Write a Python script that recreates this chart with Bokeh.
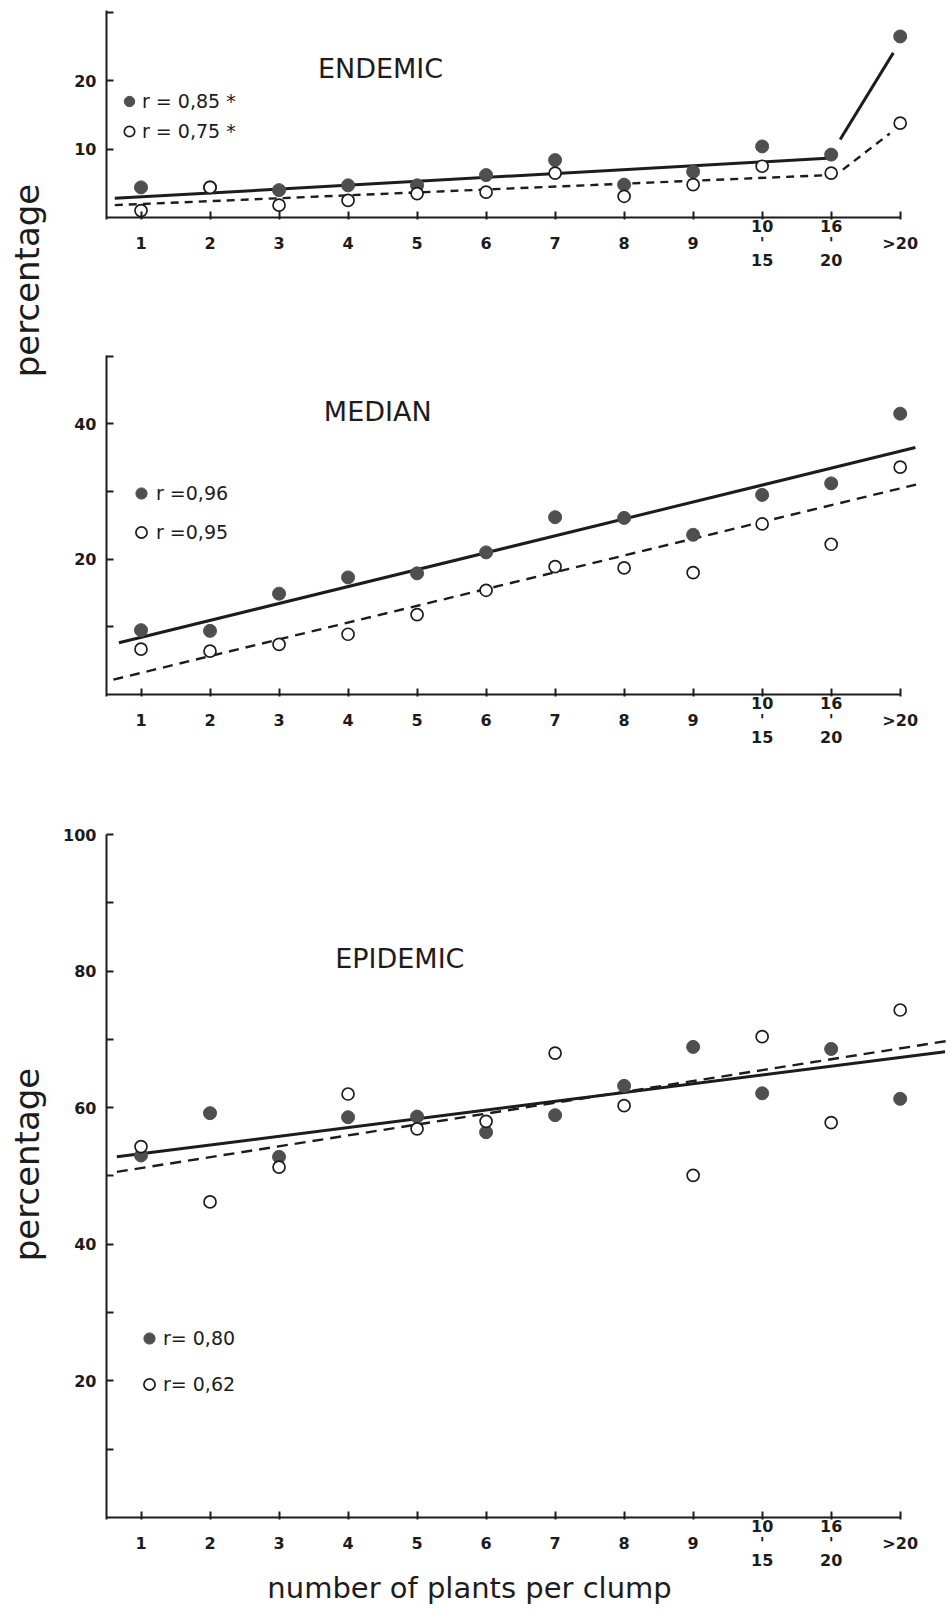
import math
from bokeh.plotting import figure
from bokeh.models import Range1d, FixedTicker, Label, Legend, LegendItem
from bokeh.layouts import row, column
from bokeh.embed import file_html
from bokeh.resources import INLINE

# ---------------- data ----------------
categories = ["1", "2", "3", "4", "5", "6", "7", "8", "9", "10-15", "16-20", ">20"]
tick_labels = ["\n1", "\n2", "\n3", "\n4", "\n5", "\n6", "\n7", "\n8", "\n9",
               "10\n'\n15", "16\n'\n20", "\n>20"]
xpos = list(range(1, len(categories) + 1))

endemic_filled = [4.4, 4.4, 4.0, 4.7, 4.7, 6.2, 8.4, 4.8, 6.7, 10.4, 9.2, 26.5]
endemic_open = [1.0, 4.4, 1.8, 2.5, 3.5, 3.7, 6.5, 3.1, 4.8, 7.5, 6.5, 13.8]
endemic_fit_filled_x = [0.62, 11.0]
endemic_fit_filled_y = [2.8, 8.7]
endemic_jump_filled_x = [11.13, 11.9]
endemic_jump_filled_y = [11.4, 24.1]
endemic_fit_open_x = [0.62, 10.95]
endemic_fit_open_y = [1.8, 6.2]
endemic_jump_open_x = [11.17, 11.85]
endemic_jump_open_y = [7.0, 12.3]

median_filled = [9.5, 9.4, 14.9, 17.3, 17.9, 21.0, 26.2, 26.1, 23.6, 29.5, 31.2, 41.5]
median_open = [6.7, 6.4, 7.4, 8.9, 11.8, 15.4, 18.9, 18.7, 18.0, 25.2, 22.2, 33.6]
median_fit_filled_x = [0.68, 12.22]
median_fit_filled_y = [7.65, 36.5]
median_fit_open_x = [0.6, 12.3]
median_fit_open_y = [2.2, 31.2]

epidemic_filled = [53.0, 59.2, 52.8, 58.6, 58.7, 56.4, 58.9, 63.2, 68.9, 62.1, 68.6, 61.3]
epidemic_open = [54.3, 46.2, 51.3, 62.0, 56.9, 58.0, 68.0, 60.3, 50.1, 70.4, 57.8, 74.3]
epidemic_fit_filled_x = [0.65, 12.65]
epidemic_fit_filled_y = [52.8, 68.2]
epidemic_fit_open_x = [0.65, 12.7]
epidemic_fit_open_y = [50.6, 69.8]

legend_endemic = ["r = 0,85 *", "r = 0,75 *"]
legend_median = ["r =0,96", "r =0,95"]
legend_epidemic = ["r= 0,80", "r= 0,62"]

x_title = "number of plants per clump"
y_title = "percentage"

# ---------------- style ----------------
INK = "#1c1c1c"
DOT = "#4f4f4f"
TICK_FONT = "DejaVu Sans"
X_LO, X_HI = 0.5, 12.7
LEFT_W = 52
FRAME_W = 842
BORDER_L = 106 - LEFT_W
BORDER_R = 952 - 106 - FRAME_W


def make_panel(height, frame_height, top, bottom, y_end, y_ticks, y_labelled):
    p = figure(frame_width=FRAME_W, frame_height=frame_height, height=height,
               min_border_left=BORDER_L, min_border_right=BORDER_R,
               min_border_top=top, min_border_bottom=bottom,
               x_range=Range1d(X_LO, X_HI), y_range=Range1d(-0.3, y_end),
               toolbar_location=None, output_backend="svg")
    p.outline_line_color = None
    p.grid.visible = False
    p.background_fill_color = "white"
    p.border_fill_color = "white"

    xa = p.xaxis[0]
    xa.ticker = FixedTicker(ticks=xpos)
    xa.major_label_overrides = {x: lab for x, lab in zip(xpos, tick_labels)}
    xa.axis_line_color = None
    xa.major_tick_in = 8
    xa.major_tick_out = 0
    xa.major_tick_line_width = 2
    xa.major_tick_line_color = INK
    xa.minor_tick_line_color = None
    xa.major_label_standoff = -3
    xa.major_label_text_font = TICK_FONT
    xa.major_label_text_font_style = "bold"
    xa.major_label_text_font_size = "16px"
    xa.major_label_text_line_height = 0.9
    xa.major_label_text_color = INK

    ya = p.yaxis[0]
    ya.ticker = FixedTicker(ticks=y_ticks)
    ya.major_label_overrides = {t: (str(int(t)) if t in y_labelled else "") for t in y_ticks}
    ya.axis_line_width = 2
    ya.axis_line_color = INK
    ya.major_tick_in = 7
    ya.major_tick_out = 0
    ya.major_tick_line_width = 2
    ya.major_tick_line_color = INK
    ya.minor_tick_line_color = None
    ya.major_label_standoff = 10
    ya.major_label_text_font = TICK_FONT
    ya.major_label_text_font_style = "bold"
    ya.major_label_text_font_size = "16px"
    ya.major_label_text_color = INK

    # x axis line from the first gap to the last category
    p.line(x=[X_LO, len(categories)], y=[0, 0], line_width=2, line_color=INK)
    return p


def add_series(p, filled, opened, fits_filled, fits_open, dash):
    for fx, fy in fits_filled:
        p.line(x=fx, y=fy, line_width=3, line_color=INK)
    for fx, fy in fits_open:
        p.line(x=fx, y=fy, line_width=2.4, line_color=INK, line_dash=dash)
    rf = p.scatter(x=xpos, y=filled, size=13, marker="circle",
                   fill_color=DOT, line_color=DOT, line_width=1)
    ro = p.scatter(x=xpos, y=opened, size=12, marker="circle",
                   fill_color="white", line_color=INK, line_width=1.7)
    return rf, ro


def add_legend(p, rf, ro, labels, loc, glyph, spacing, standoff):
    leg = Legend(items=[LegendItem(label=labels[0], renderers=[rf]),
                        LegendItem(label=labels[1], renderers=[ro])],
                 location=loc, glyph_width=glyph, glyph_height=glyph,
                 spacing=spacing, label_standoff=standoff, padding=0, margin=0,
                 label_height=20, border_line_color=None,
                 background_fill_alpha=0,
                 label_text_font="DejaVu Sans",
                 label_text_font_size="19px", label_text_color=INK)
    p.add_layout(leg)


def add_title(p, text, x, y):
    p.add_layout(Label(x=x, y=y, text=text, text_align="center",
                       text_baseline="middle", text_font="DejaVu Sans",
                       text_font_size="27px", text_color=INK))


# ---------------- panel 1: ENDEMIC ----------------
p1 = make_panel(290, 209, 10, 71, 30.3, [10, 20, 30], [10, 20])
rf, ro = add_series(p1, endemic_filled, endemic_open,
                    [(endemic_fit_filled_x, endemic_fit_filled_y),
                     (endemic_jump_filled_x, endemic_jump_filled_y)],
                    [(endemic_fit_open_x, endemic_fit_open_y),
                     (endemic_jump_open_x, endemic_jump_open_y)], "8 6")
add_legend(p1, rf, ro, legend_endemic, (10, 75), 26, 4, 0)
add_title(p1, "ENDEMIC", 4.47, 21.8)

# ---------------- panel 2: MEDIAN ----------------
p2 = make_panel(490, 341, 65, 84, 50.1, [10, 20, 30, 40, 50], [20, 40])
rf, ro = add_series(p2, median_filled, median_open,
                    [(median_fit_filled_x, median_fit_filled_y)],
                    [(median_fit_open_x, median_fit_open_y)], "10 7")
add_legend(p2, rf, ro, legend_median, (21, 150), 28, 11, 1)
add_title(p2, "MEDIAN", 4.43, 41.8)

# ---------------- panel 3: EPIDEMIC ----------------
p3 = make_panel(791, 685, 54, 52, 100, [10, 20, 30, 40, 50, 60, 70, 80, 90, 100],
                [20, 40, 60, 80, 100])
rf, ro = add_series(p3, epidemic_filled, epidemic_open,
                    [(epidemic_fit_filled_x, epidemic_fit_filled_y)],
                    [(epidemic_fit_open_x, epidemic_fit_open_y)], "11 7")
add_legend(p3, rf, ro, legend_epidemic, (29, 121), 28, 18, 0)
add_title(p3, "EPIDEMIC", 4.75, 81.8)

# ---------------- x title strip (shares panel 3's x scale) ----------------
STRIP_H = 1612 - 290 - 490 - 791
strip = figure(frame_width=FRAME_W, frame_height=STRIP_H, height=STRIP_H,
               min_border_left=BORDER_L, min_border_right=BORDER_R,
               min_border_top=0, min_border_bottom=0,
               x_range=p3.x_range, y_range=Range1d(0, STRIP_H),
               x_axis_location=None, y_axis_location=None,
               toolbar_location=None, output_backend="svg")
strip.outline_line_color = None
strip.grid.visible = False
strip.add_layout(Label(x=5.76, y=STRIP_H - 15, text=x_title,
                       text_align="center", text_baseline="middle",
                       text_font="DejaVu Sans", text_font_size="29px",
                       text_color=INK))

# ---------------- shared y labels ----------------
left = figure(width=LEFT_W, height=1612, x_range=Range1d(0, LEFT_W),
              y_range=Range1d(1612, 0),
              x_axis_location=None, y_axis_location=None, min_border=0,
              toolbar_location=None, output_backend="svg")
left.outline_line_color = None
left.grid.visible = False
for yc in (280, 1164):
    left.add_layout(Label(x=26, y=yc, text=y_title, angle=math.pi / 2,
                          text_align="center", text_baseline="middle",
                          text_font="DejaVu Sans", text_font_size="34px",
                          text_color=INK))

layout = row(left, column(p1, p2, p3, strip, spacing=0), spacing=0)
open("out.html", "w").write(file_html(layout, INLINE))
